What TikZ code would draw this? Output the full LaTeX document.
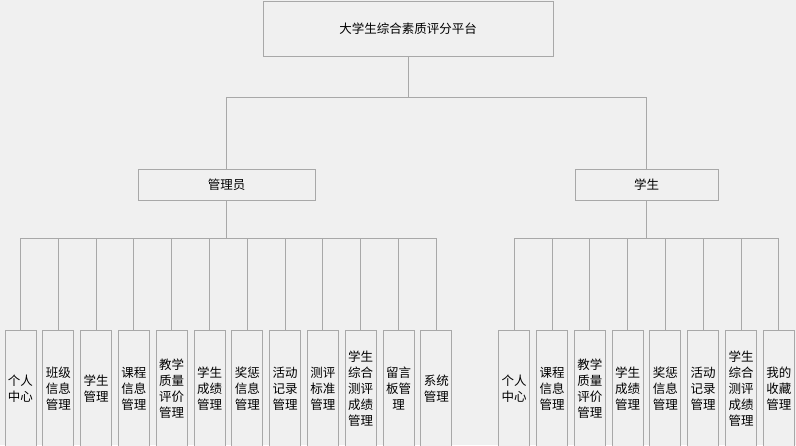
\documentclass[tikz,border=0pt]{standalone}
\usepackage{fontspec}
\setmainfont{Noto Sans CJK SC}
\usepackage{tikz}
\usepackage{xcolor}
\usetikzlibrary{positioning}

\definecolor{bggray}{HTML}{F0F0F0}
\definecolor{linegray}{HTML}{A8A8A8}

\tikzset{
    box/.style={draw=linegray, fill=bggray, line width=0.9pt, inner sep=2pt, align=center, font=\fontsize{12.5}{16}\selectfont},
    leafbox/.style={box, anchor=north, minimum width=31, minimum height=116},
    tree/.style={draw=linegray, line width=0.9pt}
}

\begin{document}
\begin{tikzpicture}[x=1pt, y=-1pt]
                    % Canvas
                    \useasboundingbox (0,0) rectangle (796,445);
                    \fill[bggray] (0,0) rectangle (796,445);

                    % Top level
                    \node[box, minimum width=290, minimum height=55] (root) at (408,28.5) {大学生综合素质评分平台};
                    \node[box, minimum width=177, minimum height=31] (admin) at (226.5,184.5) {管理员};
                    \node[box, minimum width=143, minimum height=31] (stu) at (646.5,184.5) {学生};

                    % Junction points
                    \coordinate (j0) at (408,97);
                    \coordinate (ja) at (226.5,238.5);
                    \coordinate (js) at (646.5,238.5);

                    % Leaves of the admin branch
                    \node[leafbox] (a1) at (20.5,330) {个人\\中心};
                    \node[leafbox] (a2) at (58.3,330) {班级\\信息\\管理};
                    \node[leafbox] (a3) at (96.1,330) {学生\\管理};
                    \node[leafbox] (a4) at (133.9,330) {课程\\信息\\管理};
                    \node[leafbox] (a5) at (171.7,330) {教学\\质量\\评价\\管理};
                    \node[leafbox] (a6) at (209.5,330) {学生\\成绩\\管理};
                    \node[leafbox] (a7) at (247.3,330) {奖惩\\信息\\管理};
                    \node[leafbox] (a8) at (285.1,330) {活动\\记录\\管理};
                    \node[leafbox] (a9) at (322.9,330) {测评\\标准\\管理};
                    \node[leafbox] (a10) at (360.7,330) {学生\\综合\\测评\\成绩\\管理};
                    \node[leafbox] (a11) at (398.5,330) {留言\\板管\\理};
                    \node[leafbox] (a12) at (436.3,330) {系统\\管理};

                    % Leaves of the student branch
                    \node[leafbox] (s1) at (514.2,330) {个人\\中心};
                    \node[leafbox] (s2) at (552,330) {课程\\信息\\管理};
                    \node[leafbox] (s3) at (589.8,330) {教学\\质量\\评价\\管理};
                    \node[leafbox] (s4) at (627.6,330) {学生\\成绩\\管理};
                    \node[leafbox] (s5) at (665.4,330) {奖惩\\信息\\管理};
                    \node[leafbox] (s6) at (703.2,330) {活动\\记录\\管理};
                    \node[leafbox] (s7) at (741,330) {学生\\综合\\测评\\成绩\\管理};
                    \node[leafbox] (s8) at (778.8,330) {我的\\收藏\\管理};

                    % Tree edges
                    \draw[tree] (root) -- (j0);
                    \draw[tree] (j0) -| (admin.north);
                    \draw[tree] (j0) -| (stu.north);

                    \draw[tree] (admin) -- (ja);
                    \draw[tree] (ja) -| (a1.north);
                    \draw[tree] (ja) -| (a2.north);
                    \draw[tree] (ja) -| (a3.north);
                    \draw[tree] (ja) -| (a4.north);
                    \draw[tree] (ja) -| (a5.north);
                    \draw[tree] (ja) -| (a6.north);
                    \draw[tree] (ja) -| (a7.north);
                    \draw[tree] (ja) -| (a8.north);
                    \draw[tree] (ja) -| (a9.north);
                    \draw[tree] (ja) -| (a10.north);
                    \draw[tree] (ja) -| (a11.north);
                    \draw[tree] (ja) -| (a12.north);

                    \draw[tree] (stu) -- (js);
                    \draw[tree] (js) -| (s1.north);
                    \draw[tree] (js) -| (s2.north);
                    \draw[tree] (js) -| (s3.north);
                    \draw[tree] (js) -| (s4.north);
                    \draw[tree] (js) -| (s5.north);
                    \draw[tree] (js) -| (s6.north);
                    \draw[tree] (js) -| (s7.north);
                    \draw[tree] (js) -| (s8.north);

                \end{tikzpicture}
\end{document}
